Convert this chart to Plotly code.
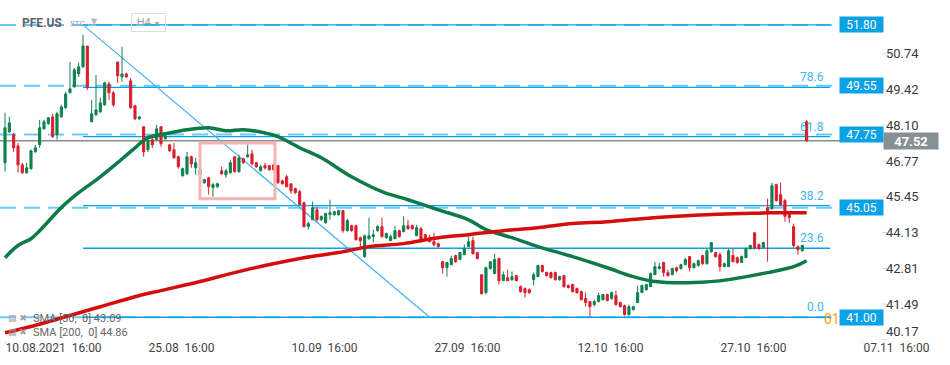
import plotly.graph_objects as go

# ---------------- data ----------------
opens = [46.71,47.85,47.74,47.33,46.63,46.34,46.49,47.11,47.37,47.96,
         48.15,48.40,47.74,48.40,48.74,49.29,49.51,49.99,50.25,51.02,
         48.22,48.48,48.59,48.85,49.62,49.29,50.43,49.88,49.99,49.73,
         48.81,48.33,48.04,47.19,47.56,47.56,48.04,47.59,47.37,47.19,
         46.93,46.23,46.30,46.93,46.52,46.26,45.97,46.15,45.79,45.82,
         46.41,46.26,46.34,46.93,46.38,46.86,46.93,47.04,46.71,46.41,
         46.60,46.60,46.63,46.60,46.04,46.19,45.93,45.75,45.64,45.23,
         44.35,44.60,44.97,44.60,44.49,44.79,44.79,44.79,44.94,44.20,
         44.38,44.38,43.94,43.24,43.90,43.98,44.20,44.35,43.94,43.83,
         43.90,44.20,44.16,44.38,44.38,44.01,44.27,44.05,43.94,43.79,
         43.72,43.05,42.83,42.94,43.28,43.13,43.31,43.61,43.83,43.39,
         42.57,41.91,42.80,42.61,43.17,42.35,42.46,42.39,42.54,42.13,
         42.06,42.02,42.39,42.50,42.91,42.65,42.65,42.65,42.39,42.54,
         42.17,42.21,42.06,41.95,41.69,41.58,41.47,41.58,41.65,41.84,
         41.69,41.80,41.54,41.43,41.10,41.28,41.54,41.91,42.02,42.13,
         42.57,42.80,43.02,42.65,42.57,42.83,42.80,42.94,43.24,42.83,
         42.91,43.28,42.98,43.42,43.39,43.31,42.87,42.87,43.28,43.20,
         43.02,43.20,43.53,44.12,43.68,43.57,45.05,45.01,45.90,45.53,
         45.31,44.86,44.35,43.61,43.46,48.22]
highs = [48.55,48.40,47.81,47.44,46.71,46.71,47.19,47.37,48.29,48.29,
         48.40,48.52,48.59,48.85,49.33,50.43,50.21,50.40,51.43,51.02,
         49.03,49.95,49.11,49.70,49.70,49.36,50.43,50.99,50.03,49.84,
         48.85,48.44,48.04,47.74,47.74,48.11,48.04,47.81,47.41,47.44,
         46.97,46.52,47.11,46.97,46.89,46.52,46.12,46.19,45.97,45.97,
         46.56,46.49,46.82,46.93,47.00,46.89,47.37,47.19,46.74,46.63,
         46.71,46.63,46.67,46.63,46.08,46.26,45.93,45.79,45.71,45.27,
         44.53,45.27,45.08,44.75,44.86,45.34,44.94,44.97,44.94,44.64,
         44.42,44.42,43.98,44.05,44.68,44.24,44.42,44.68,44.12,44.05,
         44.38,44.24,44.73,44.60,44.42,44.42,44.35,44.09,44.05,44.12,
         43.76,43.09,43.02,43.28,43.31,43.39,43.68,43.98,43.98,43.42,
         42.57,42.87,43.05,43.35,43.20,42.69,42.76,42.69,42.57,42.17,
         42.10,42.06,42.65,42.94,42.94,42.69,42.69,42.69,42.54,42.57,
         42.21,42.24,42.10,41.98,41.91,41.58,41.65,41.91,41.87,41.87,
         41.95,41.98,41.58,41.47,41.47,41.43,42.17,42.21,42.24,42.65,
         43.05,43.02,43.05,42.76,42.83,42.87,42.98,43.20,43.24,43.02,
         43.13,43.31,43.53,43.76,43.42,43.39,43.02,43.53,43.53,43.24,
         43.28,43.57,43.68,44.12,43.72,43.79,45.38,45.97,45.93,45.97,
         45.38,44.90,44.46,43.65,43.68,48.29]
lows = [46.38,47.81,47.11,46.34,46.30,46.30,46.45,47.08,47.26,47.93,
        48.11,47.63,47.56,48.37,48.70,49.29,49.48,49.88,50.21,49.40,
        48.22,48.44,48.55,48.81,49.03,48.77,49.66,49.70,49.84,48.70,
        48.29,48.29,46.93,47.11,47.26,47.52,47.30,47.56,47.11,46.86,
        46.49,46.19,46.26,46.52,46.26,46.23,45.93,45.53,45.45,45.79,
        46.26,46.15,46.30,46.34,46.34,46.67,46.89,46.60,46.52,46.38,
        46.45,46.41,46.41,45.93,45.90,45.82,45.56,45.56,45.16,44.31,
        44.24,44.60,44.53,44.57,44.46,44.60,44.75,44.75,44.12,44.16,
        44.16,43.83,43.50,43.20,43.87,43.76,44.16,43.94,43.90,43.83,
        43.90,43.94,44.16,44.24,44.24,44.01,43.79,43.83,43.76,43.61,
        43.57,42.61,42.50,42.94,43.02,43.13,43.31,43.61,43.31,43.13,
        41.84,41.84,42.76,42.61,42.21,42.35,42.35,42.35,42.35,41.91,
        41.73,41.87,42.17,42.50,42.65,42.50,42.43,42.35,42.35,42.10,
        42.06,41.91,41.87,41.62,41.39,41.03,41.39,41.54,41.62,41.58,
        41.65,41.43,41.36,41.06,41.06,41.25,41.54,41.91,41.98,42.13,
        42.57,42.76,42.50,42.50,42.57,42.65,42.76,42.94,42.69,42.80,
        42.87,42.94,42.94,43.39,43.20,42.69,42.87,42.87,43.05,42.98,
        43.02,43.20,43.50,43.50,43.50,43.57,43.05,44.97,45.27,45.12,
        44.53,44.49,43.57,43.31,43.42,47.48]
closes = [48.00,48.18,47.26,46.63,46.34,46.52,47.15,47.26,48.00,48.22,
          48.37,47.67,48.52,48.77,49.25,49.44,50.14,50.25,51.02,49.48,
          48.52,48.66,48.92,49.66,49.29,48.85,49.92,49.99,49.88,48.74,
          48.33,48.40,47.11,47.52,47.37,47.96,47.41,47.70,47.15,46.89,
          46.56,46.49,46.93,46.67,46.71,46.45,46.08,45.82,45.90,45.93,
          46.30,46.41,46.71,46.38,46.89,46.71,47.00,46.67,46.56,46.56,
          46.52,46.45,46.45,45.97,45.93,45.82,45.67,45.60,45.16,44.35,
          44.46,45.05,44.60,44.73,44.83,44.86,44.90,44.94,44.20,44.57,
          44.20,43.87,43.83,44.01,44.01,44.05,44.35,43.98,44.09,43.98,
          44.20,43.98,44.38,44.27,44.27,44.31,43.79,43.87,43.79,43.68,
          43.61,42.83,43.02,43.17,43.05,43.39,43.53,43.79,43.35,43.17,
          41.87,42.83,43.05,43.13,42.35,42.57,42.35,42.50,42.35,41.95,
          41.91,41.91,42.57,42.91,42.69,42.54,42.46,42.39,42.50,42.13,
          42.10,41.95,41.91,41.65,41.54,41.39,41.58,41.80,41.84,41.62,
          41.91,41.47,41.39,41.10,41.39,41.39,41.91,42.17,42.21,42.61,
          42.87,42.87,42.65,42.54,42.80,42.72,42.94,43.13,42.83,42.98,
          43.09,42.98,43.46,43.76,43.24,42.87,42.98,43.46,43.05,43.02,
          43.24,43.53,43.65,43.57,43.53,43.76,44.90,45.86,45.31,45.16,
          44.73,44.68,43.65,43.50,43.65,47.52]

# moving averages read at sample bars
sma50_idx = [0,3,6,8,13,17,22,26,30,33,37,42,47,51,55,60,63,68,73,80,87,93,
             100,107,111,117,123,131,139,145,150,159,167,176,182,185]
sma50_val = [43.20,43.65,43.90,44.20,45.05,45.60,46.19,46.71,47.26,47.63,47.78,
             47.93,48.00,47.89,47.93,47.81,47.67,47.26,46.89,46.19,45.64,45.34,
             44.97,44.60,44.24,43.94,43.61,43.24,42.83,42.50,42.32,42.28,42.39,
             42.65,42.87,43.09]
sma200_idx = [0,6,14,22,30,37,45,53,60,69,77,84,92,100,107,115,123,131,139,147,
              154,162,170,177,185]
sma200_val = [40.43,40.66,41.02,41.39,41.76,42.02,42.32,42.65,42.91,43.20,43.39,
              43.61,43.72,43.94,44.05,44.20,44.31,44.46,44.53,44.64,44.72,44.79,
              44.83,44.86,44.86]

# drawings
levels = [51.80, 49.55, 47.75, 45.05, 41.00]
fib_high, fib_low = 51.80, 41.00
fib_ratios = [0.0, 0.236, 0.382, 0.618, 0.786, 1.0]
fib_labels = ["0.0", "23.6", "38.2", "61.8", "78.6", ""]
fib_start_idx, fib_end_idx = 18, 98
rect_idx = [45.0, 62.3]
rect_price = [45.38, 47.44]

tick_idx = [0, 33, 66, 99, 132, 165, 198]
tick_text = ["10.08.2021\u00a0\u00a016:00", "25.08\u00a0\u00a016:00", "10.09\u00a0\u00a016:00",
             "27.09\u00a0\u00a016:00", "12.10\u00a0\u00a016:00", "27.10\u00a0\u00a016:00",
             "07.11\u00a0\u00a016:00"]
y_ticks = [40.17, 41.49, 42.81, 44.13, 45.45, 46.77, 48.10, 49.42, 50.74]

# ---------------- layout helpers ----------------
PLOT_W, PLOT_H = 922, 340
BAR_PX = 4.333
X0 = -5 / BAR_PX
X1 = X0 + PLOT_W / BAR_PX
Y0, Y1 = 40.16, 52.72


def px2idx(px):
    return X0 + px / BAR_PX


def px2paper(px):
    return px / PLOT_W


def py2paper(py):
    return 1 - py / PLOT_H


def val2py(v):
    return (Y1 - v) / (Y1 - Y0) * PLOT_H


GREEN = "#10804f"
RED = "#d81f2e"
BLUE = "#0aa2e6"
LBLUE = "#6ccbf5"
FIBTXT = "#3fb5ec"
FONT = "Roboto"

idx = list(range(len(opens)))
last = closes[-1]

fig = go.Figure()
fig.add_trace(go.Candlestick(
    x=idx, open=opens, high=highs, low=lows, close=closes,
    increasing=dict(line=dict(color=GREEN, width=1), fillcolor=GREEN),
    decreasing=dict(line=dict(color=RED, width=1), fillcolor=RED),
    whiskerwidth=0, hoverinfo="skip", showlegend=False))
fig.add_trace(go.Scatter(x=sma50_idx, y=sma50_val, mode="lines",
                         line=dict(color="#0d7a48", width=3.5, shape="spline"),
                         hoverinfo="skip", showlegend=False))
fig.add_trace(go.Scatter(x=sma200_idx, y=sma200_val, mode="lines",
                         line=dict(color="#d40d0d", width=3.5, shape="spline"),
                         hoverinfo="skip", showlegend=False))

shapes = []
annotations = []

# price scale labels on the right (kept inside the chart like the platform does)
for v in y_ticks:
    py = val2py(v)
    shift = max(0.0, py - (PLOT_H - 9))
    shapes.append(dict(type="line", xref="paper", yref="y", x0=px2paper(882), x1=px2paper(887),
                       y0=v, y1=v, line=dict(color="#dcdcdc", width=1)))
    annotations.append(dict(xref="paper", yref="y", x=px2paper(920), y=v, yshift=shift,
                            xanchor="right", yanchor="middle", text=f"{v:.2f}", borderpad=0,
                            showarrow=False, font=dict(color="#3a3a3a", size=13, family=FONT)))

# user horizontal levels (dashed, full width) with price boxes
for lv in levels:
    shapes.append(dict(type="line", xref="paper", yref="y", x0=0, x1=px2paper(839),
                       y0=lv, y1=lv, layer="below",
                       line=dict(color=LBLUE, width=2, dash="16px,8px")))
    annotations.append(dict(xref="paper", yref="y", x=px2paper(839), y=lv,
                            xanchor="left", yanchor="middle", text=f"{lv:.2f}",
                            showarrow=False, bgcolor=BLUE, width=43, height=15,
                            borderpad=0, font=dict(color="white", size=12, family=FONT)))

# fibonacci retracement
for r, lab in zip(fib_ratios, fib_labels):
    lv = fib_low + r * (fib_high - fib_low)
    shapes.append(dict(type="line", xref="x", yref="y", x0=fib_start_idx, x1=px2idx(830),
                       y0=lv, y1=lv, layer="below", line=dict(color=BLUE, width=1.3)))
    if lab:
        annotations.append(dict(xref="paper", yref="y", x=px2paper(826), y=lv, yshift=10,
                                xanchor="right", yanchor="middle", text=lab, showarrow=False,
                                font=dict(color=FIBTXT, size=12, family=FONT)))
shapes.append(dict(type="line", xref="x", yref="y", x0=fib_start_idx, y0=fib_high,
                   x1=fib_end_idx, y1=fib_low, layer="below",
                   line=dict(color="#3db2ee", width=1.2)))

# current price line and tag
shapes.append(dict(type="line", xref="paper", yref="y", x0=0, x1=px2paper(883),
                   y0=last, y1=last, layer="below", line=dict(color="#8c8c8c", width=1.5)))
annotations.append(dict(xref="paper", yref="y", x=px2paper(883), y=last, xanchor="left",
                        yanchor="middle", text=f"<b>{last:.2f}</b>", showarrow=False,
                        bgcolor="#879095", width=54, height=16, borderpad=0,
                        font=dict(color="white", size=13, family=FONT)))

# rectangle zone
shapes.append(dict(type="rect", xref="x", yref="y", x0=rect_idx[0], x1=rect_idx[1],
                   y0=rect_price[0], y1=rect_price[1], layer="above",
                   line=dict(color="#f3b4b4", width=3), fillcolor="rgba(0,0,0,0)"))

# orange "01" marker
annotations.append(dict(xref="paper", yref="y", x=px2paper(822), y=fib_low, yshift=-2,
                        xanchor="left", yanchor="middle", text="01", showarrow=False,
                        font=dict(color="#ff9c1a", size=14, family=FONT)))

# header
annotations += [
    dict(xref="paper", yref="paper", x=px2paper(20), y=py2paper(23), xanchor="left",
         yanchor="middle", text="<b>PFE.US</b>", showarrow=False,
         font=dict(color="#5f6368", size=12, family=FONT)),
    dict(xref="paper", yref="paper", x=px2paper(68), y=py2paper(24), xanchor="left",
         yanchor="middle", text="STC", showarrow=False,
         font=dict(color="#9a9a9a", size=8, family=FONT)),
    dict(xref="paper", yref="paper", x=px2paper(89), y=py2paper(21), xanchor="left",
         yanchor="middle", text="\u25BC", showarrow=False,
         font=dict(color="#b8b8b8", size=8, family="DejaVu Sans")),
    dict(xref="paper", yref="paper", x=px2paper(131), y=py2paper(23), xanchor="left",
         yanchor="middle", text="H4 <span style='font-size:7px'>\u25BC</span>",
         showarrow=False, width=31, height=15, bordercolor="#dddddd", borderwidth=1,
         borderpad=1, font=dict(color="#a0a0a0", size=11, family=FONT)),
]

# indicator legend
for i, (txt, val) in enumerate([("SMA [50,\u00a0\u00a00]", sma50_val[-1]),
                                 ("SMA [200,\u00a0\u00a00]", sma200_val[-1])]):
    yy = py2paper(318 + 14 * i)
    annotations.append(dict(xref="paper", yref="paper", x=px2paper(6), y=yy, xanchor="left",
                            yanchor="middle", text="\u25A4 \u2716", showarrow=False,
                            font=dict(color="#a0a0a0", size=9, family="DejaVu Sans")))
    annotations.append(dict(xref="paper", yref="paper", x=px2paper(31), y=yy, xanchor="left",
                            yanchor="middle", text=f"{txt}\u00a0{val:.2f}", showarrow=False,
                            font=dict(color="#666666", size=11, family=FONT)))

fig.update_layout(
    width=950, height=365,
    margin=dict(l=0, r=950 - PLOT_W, t=0, b=365 - PLOT_H),
    paper_bgcolor="white", plot_bgcolor="white",
    shapes=shapes, annotations=annotations, showlegend=False,
    font=dict(family=FONT),
    xaxis=dict(range=[X0, X1], tickvals=tick_idx, ticktext=tick_text,
               ticklabelposition="outside right", ticks="outside", ticklen=3,
               ticklabelstandoff=-3,
               tickcolor="#e0e0e0", showgrid=False, zeroline=False, showline=False,
               rangeslider=dict(visible=False), tickfont=dict(size=12, color="#444444"),
               fixedrange=True, automargin=False),
    yaxis=dict(range=[Y0, Y1], showticklabels=False, ticks="", showgrid=False,
               zeroline=False, showline=False, fixedrange=True, automargin=False),
)

fig.write_html("out.html", config={"displayModeBar": False},
               post_script="document.body.style.margin='0px';")
